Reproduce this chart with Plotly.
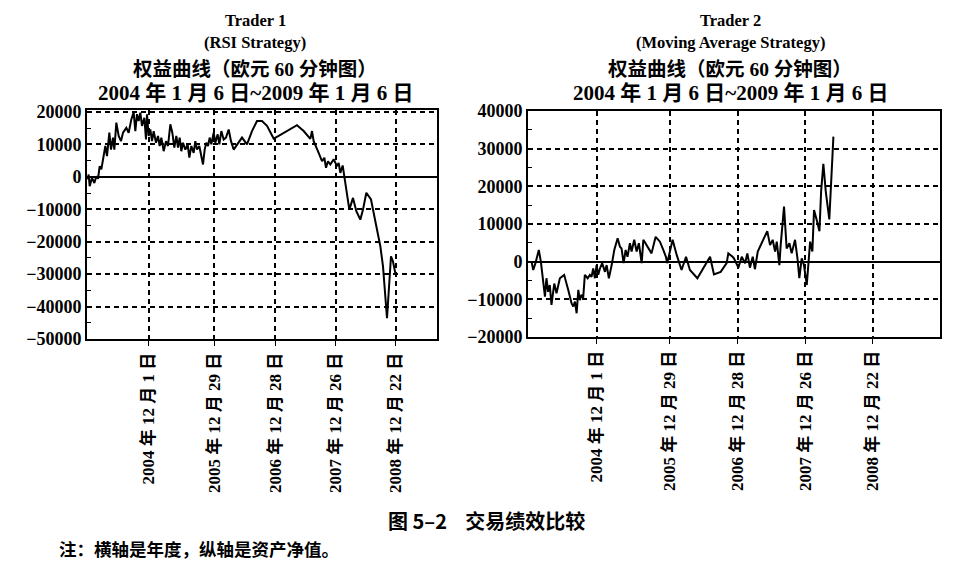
import pandas as pd
import plotly.graph_objects as go

############################################
# equity curves: days since start, net equity
start_date = pd.Timestamp('2003-11-30')

t1_days = [0, 6, 12, 26, 40, 52, 62, 72, 82, 96, 106, 116, 130, 140, 152, 160, 172, 186, 200, 212,
           232, 246, 262, 276, 286, 296, 306, 316, 326, 340, 350, 356, 366, 376, 386, 396, 410, 422, 432, 442,
           456, 470, 482, 496, 508, 520, 532, 542, 552, 562, 572, 586, 600, 610, 622, 636, 646, 656, 670, 680,
           692, 702, 712, 722, 732, 742, 756, 766, 780, 790, 802, 816, 830, 846, 860, 876, 906, 926, 956, 986,
           1016, 1046, 1076, 1116, 1146, 1196, 1256, 1296, 1336, 1346, 1356, 1386, 1406, 1420, 1430, 1442, 1456, 1476, 1496, 1506,
           1516, 1530, 1546, 1560, 1570, 1592, 1612, 1636, 1652, 1672, 1686, 1700, 1726, 1756, 1772, 1796, 1820, 1832, 1846]
t1_equity = [-800, 700, -2900, -300, -1900, 200, -600, 3300, 2300, 5900, 9500, 6400, 13600, 8400, 12100, 8400, 16700, 12600, 11000, 13600,
             15100, 13600, 17700, 19900, 14100, 19300, 17200, 19800, 15700, 18200, 11500, 19300, 12600, 14600, 11000, 14100, 10500, 12600, 9500, 12100,
             7900, 11000, 9500, 16200, 13600, 9000, 12600, 9000, 12100, 7900, 10500, 8400, 10000, 5900, 9500, 7400, 11000, 8400, 9500, 6900,
             3800, 8400, 10500, 9500, 12100, 10000, 13600, 10500, 13100, 10000, 14100, 11500, 12100, 14600, 11000, 8400, 10500, 12100, 10000, 14100,
             17200, 17200, 15700, 11800, 12600, 14100, 15900, 14100, 11700, 14100, 11000, 7400, 4800, 5900, 2800, 4800, 3800, 5400, 3300, 4300,
             1200, 3500, -2400, -6000, -10100, -6500, -10600, -13200, -10100, -4900, -6000, -7000, -13700, -21400, -27600, -43600, -24500, -26100, -29700]

t2_days = [18, 27, 39, 50, 57, 68, 81, 90, 98, 107, 116, 125, 140, 152, 170, 193, 215, 233, 242, 251,
           260, 269, 277, 286, 295, 304, 319, 331, 340, 349, 358, 367, 376, 385, 397, 412, 421, 433, 448, 462,
           480, 492, 501, 512, 523, 533, 546, 555, 569, 582, 594, 609, 618, 635, 662, 684, 707, 725, 739, 746,
           775, 797, 823, 847, 868, 908, 976, 997, 1033, 1065, 1074, 1097, 1104, 1128, 1146, 1164, 1176, 1190, 1205, 1217,
           1232, 1283, 1298, 1312, 1325, 1334, 1348, 1355, 1373, 1387, 1402, 1414, 1432, 1445, 1455, 1468, 1480, 1495, 1504, 1513,
           1525, 1534, 1548, 1563, 1572, 1584, 1597, 1616, 1638]
t2_equity = [0, -2200, -400, 1800, 3100, 0, -5800, -9300, -4400, -8000, -6200, -11500, -5800, -8400, -4400, -3500, -7500, -11100, -11900, -10600,
             -13700, -7500, -10200, -8800, -9700, -3500, -4400, -3500, -4000, -1800, -4400, -900, -3500, -1800, -400, -2700, -900, -4400, -900, 3100,
             6200, 4000, 3500, -400, 3100, 1300, 4900, 2700, 5800, 2700, 4900, -400, 5800, 4400, 2200, 6600, 5300, 3100, 1300, -400,
             5800, 1800, -2200, 1300, -2200, -4400, 1300, -3400, -2700, -400, 2200, 1300, 900, -1600, 1300, -400, 2200, -1600, 1300, -2000,
             2700, 8100, 4400, 5800, 2700, 5300, -900, 4400, 14600, 3500, 4900, 2200, 5800, 900, -4400, 900, -900, -6200, -900, 5300,
             2700, 13700, 11100, 8100, 18600, 26000, 18600, 11200, 33200]

tick_dates = ['2004-12-01', '2005-12-29', '2006-12-28', '2007-12-26', '2008-12-22']
tick_text = ['2004 年 12 月 1 日', '2005 年 12 月 29 日', '2006 年 12 月 28 日',
             '2007 年 12 月 26 日', '2008 年 12 月 22 日']

FONT = 'Liberation Serif, Noto Sans CJK SC'
CJK = 'Noto Sans CJK SC'

# page has an 8px body margin, so size the figure to fit and place things in page pixels
W, H, OFF = 952, 562, 8


def fx(px):
    return (px - OFF) / W


def fy(py):
    return 1 - (py - OFF) / H


def to_dates(days):
    return start_date + pd.to_timedelta(days, unit='D')


fig = go.Figure()
fig.add_trace(go.Scatter(x=to_dates(t1_days), y=t1_equity, mode='lines',
                         line=dict(color='black', width=2), xaxis='x', yaxis='y'))
fig.add_trace(go.Scatter(x=to_dates(t2_days), y=t2_equity, mode='lines',
                         line=dict(color='black', width=2), xaxis='x2', yaxis='y2'))

xcommon = dict(type='date', tickmode='array', tickvals=tick_dates, ticktext=tick_text,
               tickangle=-90, ticks='outside', ticklen=5, tickcolor='black', automargin=False,
               showline=True, linecolor='black', linewidth=2, mirror=True,
               showgrid=True, gridcolor='black', gridwidth=1.5, griddash='5px,4px',
               zeroline=False, tickfont=dict(family=FONT, size=17, color='black', weight='bold'))
ycommon = dict(dtick=10000, ticks='', showline=True, linecolor='black', linewidth=2, mirror=True,
               showgrid=True, gridcolor='black', gridwidth=1.5, griddash='5px,4px', automargin=False,
               zeroline=True, zerolinecolor='black', zerolinewidth=2,
               minor=dict(dtick=5000, ticks='inside', ticklen=4, tickcolor='black', showgrid=False),
               tickformat='d', tickfont=dict(family=FONT, size=18, color='black', weight='bold'))

fig.update_layout(
    width=W, height=H, margin=dict(l=0, r=0, t=0, b=0, autoexpand=False),
    paper_bgcolor='white', plot_bgcolor='white', showlegend=False,
    xaxis=dict(xcommon, domain=[fx(87), fx(437)], range=['2003-11-26', '2009-08-26'], anchor='y'),
    yaxis=dict(ycommon, domain=[fy(339), fy(110)], range=[-50000, 20600], anchor='x'),
    xaxis2=dict(xcommon, domain=[fx(528), fx(940)], range=['2003-11-29', '2009-12-18'], anchor='y2'),
    yaxis2=dict(ycommon, domain=[fy(337), fy(111)], range=[-20000, 40000], anchor='x2'),
)

# titles above each panel
titles = [
    (255, ['Trader 1', '(RSI Strategy)']),
    (730, ['Trader 2', '(Moving Average Strategy)']),
]
for cx, (l1, l2) in titles:
    for text, py, size in [(l1, 20, 16.5), (l2, 42, 16.5),
                           ('权益曲线（欧元 60 分钟图）', 70, 19.5),
                           ('2004 年 1 月 6 日~2009 年 1 月 6 日', 93, 21)]:
        fig.add_annotation(x=fx(cx), y=fy(py), xref='paper', yref='paper', text=text,
                           showarrow=False, xanchor='center', yanchor='middle', borderpad=0,
                           font=dict(family=FONT, size=size, color='black', weight='bold'))

fig.add_annotation(x=fx(486), y=fy(520), xref='paper', yref='paper',
                   text='图 5–2    交易绩效比较', showarrow=False, xanchor='center', yanchor='middle',
                   font=dict(family=CJK, size=20, color='black', weight='bold'))
fig.add_annotation(x=fx(57), y=fy(548), xref='paper', yref='paper',
                   text='注：横轴是年度，纵轴是资产净值。', showarrow=False, xanchor='left', yanchor='middle',
                   font=dict(family=CJK, size=17.5, color='black', weight='bold'))

fig.write_html('out.html')
